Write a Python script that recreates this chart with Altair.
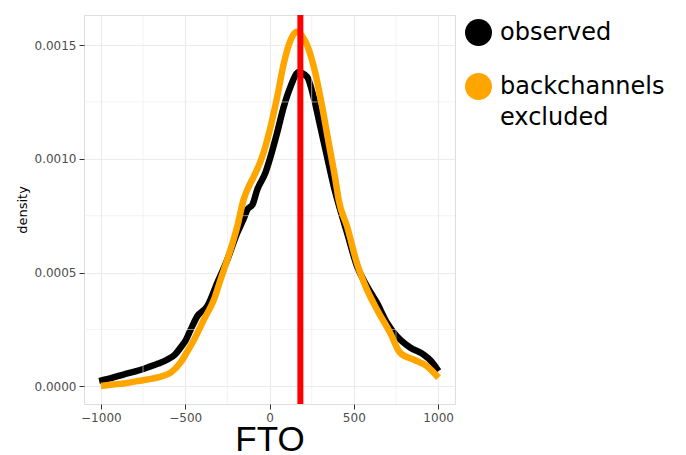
import altair as alt
import pandas as pd

# ---- data ----
series_names = ["observed", "backchannels excluded"]
series_colors = ["#000000", "#FFA500"]

obs_x = [-1010, -930, -862, -790, -724, -660, -605, -560, -527, -495, -467, -428,
         -369, -309, -250, -191, -154, -132, -100, -73, -24, 6, 45, 85, 124, 173,
         223, 262, 302, 341, 381, 410, 460, 519, 578, 637, 696, 756, 834, 913, 960, 1002]
obs_y = [0.000023, 0.000038, 0.000053, 0.000067, 0.000083, 0.000100, 0.000118, 0.000140,
         0.000171, 0.000205, 0.000250, 0.000308, 0.000352, 0.000456, 0.000557, 0.000675,
         0.000735, 0.000776, 0.000800, 0.000864, 0.000939, 0.001009, 0.001114, 0.001230,
         0.001316, 0.001380, 0.001360, 0.001270, 0.001140, 0.001010, 0.000880, 0.000800,
         0.000675, 0.000528, 0.000440, 0.000367, 0.000280, 0.000220, 0.000171, 0.000140,
         0.000110, 0.000067]

exc_x = [-1000, -930, -862, -790, -724, -650, -586, -527, -490, -447, -389, -330, -290,
         -250, -191, -154, -122, -93, -43, 6, 45, 85, 124, 160, 193, 233, 272, 312, 351,
         391, 410, 460, 519, 578, 637, 716, 775, 854, 933, 1002]
exc_y = [0.000002, 0.000008, 0.000013, 0.000022, 0.000030, 0.000042, 0.000060, 0.000105,
         0.000150, 0.000206, 0.000294, 0.000380, 0.000470, 0.000557, 0.000703, 0.000820,
         0.000880, 0.000922, 0.001010, 0.001140, 0.001270, 0.001420, 0.001520, 0.001558,
         0.001540, 0.001480, 0.001376, 0.001230, 0.001070, 0.000908, 0.000820, 0.000703,
         0.000540, 0.000425, 0.000338, 0.000235, 0.000147, 0.000118, 0.000089, 0.000038]

vline_x = [183]
x_major = [-1000, -500, 0, 500, 1000]
x_minor = [-750, -250, 250, 750]
y_major = [0.0, 0.0005, 0.0010, 0.0015]
y_minor = [0.00025, 0.00075, 0.00125]

df = pd.DataFrame({
    "FTO": obs_x + exc_x,
    "density": obs_y + exc_y,
    "series": [series_names[0]] * len(obs_x) + [series_names[1]] * len(exc_x),
})
vdf = pd.DataFrame({"FTO": vline_x})
xmin_df = pd.DataFrame({"FTO": x_minor})
ymin_df = pd.DataFrame({"density": y_minor})

xscale = alt.Scale(domain=[-1100, 1100], nice=False, zero=False)
yscale = alt.Scale(domain=[-0.0000775, 0.001632], nice=False, zero=False)

grid_col = "#ebebeb"
tick_font = dict(labelFont="DejaVu Sans", labelFontSize=12, labelColor="#4d4d4d",
                 tickColor="#333333", tickSize=5, tickWidth=1, domain=False)

xenc = alt.X("FTO:Q", scale=xscale,
             axis=alt.Axis(values=x_major, format="d", title="FTO", grid=True,
                           gridColor=grid_col, gridWidth=1.1,
                           titleFontSize=35, titleFont="Liberation Sans",
                           titleFontWeight="normal", titleColor="#000000",
                           titlePadding=-1, labelPadding=3, **tick_font))
yenc = alt.Y("density:Q", scale=yscale,
             axis=alt.Axis(values=y_major, format=".4f", title="density", grid=True,
                           gridColor=grid_col, gridWidth=1.1,
                           titleFontSize=13, titleFont="DejaVu Sans",
                           titleFontWeight="normal", titleColor="#000000",
                           titlePadding=5, labelPadding=3, **tick_font))

base = alt.Chart(df).encode(x=xenc, y=yenc)

line_layers = [
    base.mark_line(strokeWidth=6.5, interpolate="monotone", color=col)
        .transform_filter(alt.datum.series == name)
    for name, col in zip(series_names, series_colors)
]

xminor = alt.Chart(xmin_df).mark_rule(color=grid_col, strokeWidth=0.6).encode(
    x=alt.X("FTO:Q", scale=xscale)
)
yminor = alt.Chart(ymin_df).mark_rule(color=grid_col, strokeWidth=0.6).encode(
    y=alt.Y("density:Q", scale=yscale)
)

legend_pts = base.mark_point(filled=True, opacity=0).encode(
    fill=alt.Fill("series:N", scale=alt.Scale(domain=series_names, range=series_colors),
                  sort=series_names,
                  legend=alt.Legend(title=None, orient="right", offset=6, padding=4,
                                    symbolType="circle", symbolSize=729,
                                    symbolStrokeWidth=0, symbolOpacity=1,
                                    labelFont="DejaVu Sans", labelFontSize=24,
                                    labelColor="#000000", labelOffset=8,
                                    labelLimit=400, rowPadding=27,
                                    labelBaseline="middle",
                                    labelExpr="split(datum.label, ' ')")),
)

vline = alt.Chart(vdf).mark_rule(color="#FF0000", strokeWidth=6).encode(
    x=alt.X("FTO:Q", scale=xscale)
)

chart = alt.layer(line_layers[0], xminor, yminor, line_layers[1], legend_pts, vline).properties(
    width=371, height=389,
    padding={"left": 76, "top": 7, "right": 215, "bottom": 52},
    autosize=alt.AutoSizeParams(type="none"),
).configure_view(
    stroke="#8a8a8a", strokeWidth=1.2
).configure(
    style={"guide-label": {"lineHeight": 31, "font": "DejaVu Sans",
                           "fontSize": 12, "fill": "#4d4d4d"}}
)

chart.save("out.html", embed_options={"renderer": "svg", "actions": False})
